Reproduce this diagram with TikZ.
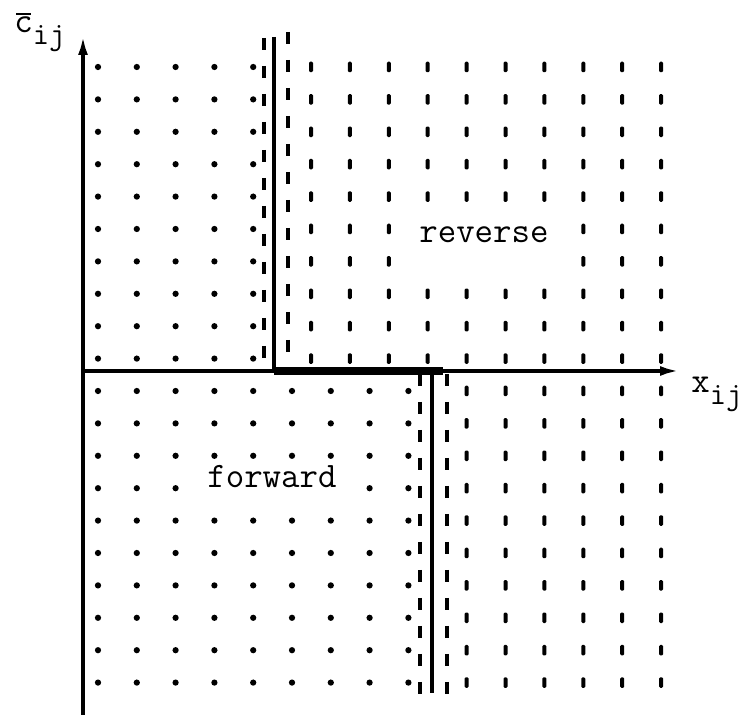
\documentclass[tikz,border=0pt]{standalone}
\usepackage{fontspec}
\usetikzlibrary{arrows.meta}

\newcommand{\subsz}{\fontsize{18pt}{20pt}\selectfont}

\begin{document}
\begin{tikzpicture}[x=0.02cm, y=-0.02cm,
  font=\ttfamily\fontsize{20.4pt}{22pt}\selectfont,
  dotmark/.style={circle, fill=black, inner sep=0pt, minimum size=0.125cm},
  tickmark/.style={fill=black, inner sep=0pt, rounded corners=0.025cm,
    minimum width=0.08cm, minimum height=0.21cm},
  axisline/.style={line width=2pt, -{Latex[length=0.38cm, width=0.2cm]}},
  bndline/.style={line width=2.6pt},
  bnddash/.style={line width=1.8pt, dash pattern=on 0.24cm off 0.32cm},
  txtlabel/.style={anchor=base west, inner sep=0pt}]
  \useasboundingbox (0,0) rectangle (748,715);

  % dots, upper left
  \foreach \r in {0,...,9}{
    \foreach \c in {0,...,4}{
      \node[dotmark] (d-\r-\c) at ({98+38.8*\c},{67+32.4*\r}) {};
    }
  }
  % dots, lower left (gap for the label)
  \foreach \r in {10,...,19}{
    \foreach \c in {0,...,8}{
      \pgfmathtruncatemacro{\hide}{(\r==13)&&(\c>2)&&(\c<7)}
      \ifnum\hide=0
        \node[dotmark] (d-\r-\c) at ({98+38.8*\c},{67+32.4*\r}) {};
      \fi
    }
  }
  % ticks, upper right (gap for the label)
  \foreach \r in {0,...,9}{
    \foreach \c in {0,...,9}{
      \pgfmathtruncatemacro{\hide}{((\r==5)||(\r==6))&&(\c>2)&&(\c<7)}
      \ifnum\hide=0
        \node[tickmark] (t-\r-\c) at ({311+38.9*\c},{67+32.4*\r}) {};
      \fi
    }
  }
  % ticks, lower right
  \foreach \r in {10,...,19}{
    \foreach \c in {4,...,9}{
      \node[tickmark] (t-\r-\c) at ({311+38.9*\c},{67+32.4*\r}) {};
    }
  }

  % axes
  \coordinate (O) at (83,371);
  \coordinate (ytop) at (83,36);
  \coordinate (ybot) at (83,715);
  \coordinate (xend) at (679,371);
  \draw[axisline] (ybot) -- (ytop);
  \draw[axisline] (O) -- (xend);

  % boundaries
  \coordinate (ua) at (274,37);
  \coordinate (ub) at (274,371);
  \coordinate (la) at (432,371);
  \coordinate (lb) at (432,693);
  \draw[bndline] (ua) -- (ub);
  \draw[bndline] (la) -- (lb);
  \draw[line width=4pt] (ub) -- (443,371);
  \draw[bnddash] (264,38) -- (264,368);
  \draw[bnddash] (288,32) -- (288,368);
  \draw[bnddash] (420,374) -- (420,695);
  \draw[bnddash] (447,374) -- (447,697);

  % labels
  \node[txtlabel] (clab) at (14,33) {c\raisebox{-0.24cm}{\subsz ij}};
  \draw[line width=1.5pt] (16,14) -- (31,14);
  \node[txtlabel] (xlab) at (691,393) {x\raisebox{-0.24cm}{\subsz ij}};
  \node[txtlabel] (rev) at (419,243) {reverse};
  \node[txtlabel] (fwd) at (207,488) {forward};
\end{tikzpicture}
\end{document}
